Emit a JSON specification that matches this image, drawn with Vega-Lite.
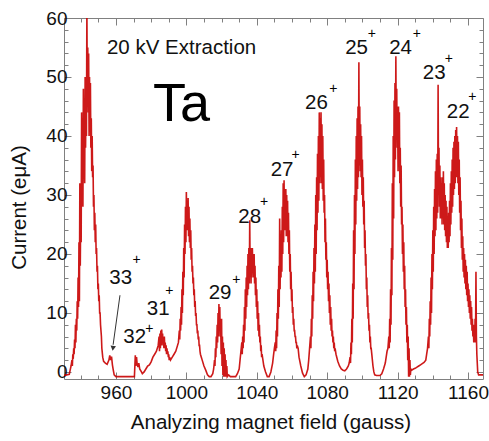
{
"$schema":"https://vega.github.io/schema/vega-lite/v6.json",
"width":419,"height":361,
"autosize":{"type":"none"},
"padding":{"left":64,"top":18,"right":6,"bottom":62},
"config":{"view":{"stroke":"#808080","strokeWidth":1},"font":"Liberation Sans","text":{"font":"Liberation Sans"}},
"datasets":{
"scan":[
{"B":930.5,"I":-0.6},{"B":932,"I":-0.5},{"B":933.5,"I":-0.4},{"B":934,"I":0.3},{"B":934.5,"I":1.0},{"B":935,"I":2},{"B":935.25,"I":1},{"B":935.5,"I":3},{"B":935.75,"I":2.2},{"B":936,"I":4},{"B":936.25,"I":3},{"B":936.5,"I":5.5},{"B":936.75,"I":4},{"B":937,"I":8},{"B":937.25,"I":5},{"B":937.5,"I":9},{"B":937.75,"I":7},{"B":938,"I":12},{"B":938.25,"I":9},{"B":938.5,"I":16},{"B":938.75,"I":11},
{"B":939,"I":22},{"B":939.25,"I":12},{"B":939.5,"I":32},{"B":939.75,"I":18},{"B":940,"I":28},{"B":940.25,"I":22},{"B":940.5,"I":44},{"B":940.75,"I":30},{"B":941,"I":36},{"B":941.25,"I":28},{"B":941.5,"I":48},{"B":941.75,"I":34},{"B":942,"I":40},{"B":942.25,"I":32},{"B":942.5,"I":50},{"B":942.75,"I":38},{"B":943,"I":46},{"B":943.25,"I":40},{"B":943.5,"I":62},{"B":943.75,"I":45},{"B":944,"I":55},{"B":944.25,"I":44},{"B":944.5,"I":54},{"B":944.75,"I":40},{"B":945,"I":50},{"B":945.25,"I":42},{"B":945.5,"I":49},{"B":945.75,"I":38},{"B":946,"I":43},{"B":946.25,"I":34},{"B":946.5,"I":40},{"B":946.75,"I":33},{"B":947,"I":35},{"B":947.25,"I":28},{"B":947.5,"I":30},{"B":947.75,"I":24},{"B":948,"I":27},{"B":948.25,"I":22},{"B":948.5,"I":25},{"B":948.75,"I":20},{"B":949,"I":21},{"B":949.25,"I":17},{"B":949.5,"I":18},{"B":949.75,"I":14},{"B":950,"I":15},{"B":950.25,"I":12},{"B":950.5,"I":13},{"B":950.75,"I":10},{"B":951,"I":10},{"B":951.25,"I":8},{"B":951.5,"I":7},{"B":951.75,"I":6},{"B":952,"I":4},{"B":952.5,"I":2.5},{"B":953,"I":1.8},{"B":954,"I":1.5},{"B":955,"I":1.3},{"B":956,"I":2},{"B":956.5,"I":2.8},{"B":957,"I":2.0},{"B":957.5,"I":2.6},{"B":958,"I":1.2},{"B":958.5,"I":0.3},{"B":959,"I":-0.5},{"B":960,"I":-0.8},{"B":970.5,"I":-0.8},
{"B":971,"I":2.8},{"B":971.3,"I":1.0},{"B":971.7,"I":2.5},{"B":972,"I":1.5},{"B":972.5,"I":0.8},{"B":973,"I":1.5},{"B":973.5,"I":0.5},{"B":974.5,"I":0},{"B":975,"I":-0.3},{"B":976,"I":0},{"B":977,"I":0.5},{"B":978,"I":1.0},{"B":979,"I":1.2},{"B":980,"I":1.7},{"B":981,"I":2.5},{"B":982,"I":3},{"B":983,"I":3.5},{"B":984,"I":4.5},
{"B":984.5,"I":6},{"B":984.75,"I":3.5},{"B":985,"I":6.5},{"B":985.25,"I":4},{"B":985.5,"I":7},{"B":985.75,"I":4.5},{"B":986,"I":7.2},{"B":986.25,"I":5},{"B":986.5,"I":6.5},{"B":986.75,"I":4.5},{"B":987,"I":5.5},{"B":987.25,"I":4},{"B":987.5,"I":6},{"B":987.75,"I":4},{"B":988,"I":5},{"B":988.25,"I":3.5},{"B":988.5,"I":4.5},{"B":988.75,"I":3},{"B":989,"I":4},{"B":989.25,"I":3},{"B":989.5,"I":3.5},{"B":989.75,"I":2.5},{"B":990,"I":3},{"B":990.25,"I":2},{"B":990.5,"I":2.5},{"B":991,"I":2},{"B":992,"I":2.5},{"B":993,"I":3},{"B":994,"I":3.5},{"B":995,"I":4.5},{"B":995.5,"I":5},
{"B":996,"I":7},{"B":996.25,"I":5.5},{"B":996.5,"I":9},{"B":996.75,"I":7},{"B":997,"I":11},{"B":997.25,"I":8},{"B":997.5,"I":14},{"B":997.75,"I":10},{"B":998,"I":17},{"B":998.25,"I":13},{"B":998.5,"I":21},{"B":998.75,"I":16},{"B":999,"I":25},{"B":999.25,"I":20},{"B":999.5,"I":28},{"B":999.75,"I":22},{"B":1000,"I":30.5},{"B":1000.25,"I":24},{"B":1000.5,"I":29},{"B":1000.75,"I":24},{"B":1001,"I":29.5},{"B":1001.25,"I":23},{"B":1001.5,"I":28},{"B":1001.75,"I":22},{"B":1002,"I":26},{"B":1002.25,"I":21},{"B":1002.5,"I":24},{"B":1002.75,"I":19},{"B":1003,"I":21},{"B":1003.25,"I":17},{"B":1003.5,"I":18},{"B":1003.75,"I":15},{"B":1004,"I":16},{"B":1004.25,"I":13},{"B":1004.5,"I":14},{"B":1004.75,"I":11},{"B":1005,"I":12},{"B":1005.25,"I":9.5},{"B":1005.5,"I":10},{"B":1005.75,"I":8},{"B":1006,"I":8},{"B":1006.25,"I":6.5},{"B":1006.5,"I":7},{"B":1006.75,"I":5.5},{"B":1007,"I":6},{"B":1007.25,"I":4.5},{"B":1007.5,"I":4.5},{"B":1007.75,"I":3.5},{"B":1008,"I":3},{"B":1008.5,"I":2.5},{"B":1009,"I":2},{"B":1010,"I":1},{"B":1011,"I":0.3},{"B":1012,"I":-0.5},{"B":1013,"I":-0.8},{"B":1014,"I":-0.8},{"B":1015,"I":-0.3},{"B":1015.5,"I":0.5},
{"B":1016,"I":2},{"B":1016.25,"I":1},{"B":1016.5,"I":4},{"B":1016.75,"I":2.5},{"B":1017,"I":6},{"B":1017.25,"I":4},{"B":1017.5,"I":8},{"B":1017.75,"I":5},{"B":1018,"I":10},{"B":1018.25,"I":6},{"B":1018.5,"I":11.5},{"B":1018.75,"I":7},{"B":1019,"I":11},{"B":1019.25,"I":6},{"B":1019.5,"I":8},{"B":1019.75,"I":3},{"B":1020,"I":9},{"B":1020.25,"I":1},{"B":1020.5,"I":6},{"B":1020.75,"I":-0.5},{"B":1021,"I":5},{"B":1021.25,"I":-0.8},{"B":1021.5,"I":4},{"B":1021.75,"I":-0.8},{"B":1022,"I":3},{"B":1022.25,"I":-0.8},{"B":1022.5,"I":2},{"B":1022.75,"I":-0.8},{"B":1023,"I":1},{"B":1023.25,"I":-0.8},{"B":1024,"I":-0.5},{"B":1025,"I":-0.8},{"B":1028,"I":-0.8},{"B":1029,"I":-0.3},{"B":1030,"I":0.5},{"B":1030.5,"I":2},{"B":1031,"I":3.5},
{"B":1031.5,"I":5},{"B":1031.75,"I":3},{"B":1032,"I":6},{"B":1032.25,"I":4},{"B":1032.5,"I":8},{"B":1032.75,"I":5},{"B":1033,"I":11},{"B":1033.25,"I":7},{"B":1033.5,"I":14},{"B":1033.75,"I":9},{"B":1034,"I":16},{"B":1034.25,"I":11},{"B":1034.5,"I":18},{"B":1034.75,"I":13},{"B":1035,"I":20},{"B":1035.25,"I":14},{"B":1035.5,"I":21},{"B":1035.75,"I":15},{"B":1036,"I":25.7},{"B":1036.25,"I":17},{"B":1036.5,"I":20},{"B":1036.75,"I":15},{"B":1037,"I":21},{"B":1037.25,"I":16},{"B":1037.5,"I":21},{"B":1037.75,"I":17},{"B":1038,"I":20},{"B":1038.25,"I":16},{"B":1038.5,"I":20},{"B":1038.75,"I":15},{"B":1039,"I":18},{"B":1039.25,"I":13},{"B":1039.5,"I":16},{"B":1039.75,"I":11},{"B":1040,"I":14},{"B":1040.25,"I":9},{"B":1040.5,"I":12},{"B":1040.75,"I":7},{"B":1041,"I":10},{"B":1041.25,"I":6},{"B":1041.5,"I":8},{"B":1041.75,"I":5},{"B":1042,"I":6},{"B":1042.25,"I":3.5},{"B":1042.5,"I":4.5},{"B":1042.75,"I":2.5},{"B":1043,"I":3},{"B":1043.5,"I":2},{"B":1044,"I":1},{"B":1045,"I":0},{"B":1046,"I":-0.8},{"B":1047,"I":-0.8},{"B":1048,"I":0},{"B":1049,"I":1.5},{"B":1049.5,"I":2.8},{"B":1050,"I":4},
{"B":1050.5,"I":5},{"B":1050.75,"I":3.5},{"B":1051,"I":7},{"B":1051.25,"I":4},{"B":1051.5,"I":10},{"B":1051.75,"I":6},{"B":1052,"I":14},{"B":1052.25,"I":9},{"B":1052.5,"I":18},{"B":1052.75,"I":11},{"B":1053,"I":26},{"B":1053.25,"I":14},{"B":1053.5,"I":22},{"B":1053.75,"I":16},{"B":1054,"I":24},{"B":1054.25,"I":17},{"B":1054.5,"I":28},{"B":1054.75,"I":20},{"B":1055,"I":32},{"B":1055.25,"I":22},{"B":1055.5,"I":32.5},{"B":1055.75,"I":24},{"B":1056,"I":31},{"B":1056.25,"I":24},{"B":1056.5,"I":31},{"B":1056.75,"I":23},{"B":1057,"I":30},{"B":1057.25,"I":23},{"B":1057.5,"I":29},{"B":1057.75,"I":22},{"B":1058,"I":27},{"B":1058.25,"I":20},{"B":1058.5,"I":24},{"B":1058.75,"I":17},{"B":1059,"I":20},{"B":1059.25,"I":14},{"B":1059.5,"I":17},{"B":1059.75,"I":12},{"B":1060,"I":14},{"B":1060.25,"I":10},{"B":1060.5,"I":11},{"B":1060.75,"I":8},{"B":1061,"I":9},{"B":1061.25,"I":7},{"B":1061.5,"I":7},{"B":1061.75,"I":6},{"B":1062,"I":6},{"B":1062.25,"I":5},{"B":1062.5,"I":5},{"B":1062.75,"I":4},{"B":1063,"I":4.5},{"B":1063.5,"I":4},{"B":1064,"I":2.5},{"B":1065,"I":1},{"B":1066,"I":-0.2},{"B":1067,"I":-0.8},{"B":1068,"I":-0.5},{"B":1069,"I":0.5},{"B":1069.5,"I":2},{"B":1070,"I":4},
{"B":1070.5,"I":6},{"B":1070.75,"I":4},{"B":1071,"I":9},{"B":1071.25,"I":6},{"B":1071.5,"I":13},{"B":1071.75,"I":9},{"B":1072,"I":17},{"B":1072.25,"I":12},{"B":1072.5,"I":21},{"B":1072.75,"I":15},{"B":1073,"I":25},{"B":1073.25,"I":17},{"B":1073.5,"I":30},{"B":1073.75,"I":20},{"B":1074,"I":33},{"B":1074.25,"I":24},{"B":1074.5,"I":37},{"B":1074.75,"I":27},{"B":1075,"I":40},{"B":1075.25,"I":29},{"B":1075.5,"I":44},{"B":1075.75,"I":32},{"B":1076,"I":43},{"B":1076.25,"I":33},{"B":1076.5,"I":44},{"B":1076.75,"I":32},{"B":1077,"I":42},{"B":1077.25,"I":31},{"B":1077.5,"I":40},{"B":1077.75,"I":29},{"B":1078,"I":36},{"B":1078.25,"I":27},{"B":1078.5,"I":30},{"B":1078.75,"I":22},{"B":1079,"I":26},{"B":1079.25,"I":19},{"B":1079.5,"I":22},{"B":1079.75,"I":16},{"B":1080,"I":19},{"B":1080.25,"I":14},{"B":1080.5,"I":17},{"B":1080.75,"I":12},{"B":1081,"I":15},{"B":1081.25,"I":10},{"B":1081.5,"I":13},{"B":1081.75,"I":8},{"B":1082,"I":11},{"B":1082.25,"I":7},{"B":1082.5,"I":9},{"B":1082.75,"I":6},{"B":1083,"I":7},{"B":1083.25,"I":5},{"B":1083.5,"I":6},{"B":1083.75,"I":4},{"B":1084,"I":5},{"B":1084.25,"I":3.5},{"B":1084.5,"I":4},{"B":1085,"I":3},{"B":1086,"I":1.8},{"B":1087,"I":1},{"B":1088,"I":0.5},{"B":1089,"I":0.3},{"B":1090,"I":0.2},{"B":1091,"I":0.5},{"B":1092,"I":1},{"B":1092.5,"I":1.5},
{"B":1093,"I":2.5},{"B":1093.25,"I":1.5},{"B":1093.5,"I":5},{"B":1093.75,"I":3},{"B":1094,"I":9},{"B":1094.25,"I":5},{"B":1094.5,"I":15},{"B":1094.75,"I":9},{"B":1095,"I":24},{"B":1095.25,"I":14},{"B":1095.5,"I":30},{"B":1095.75,"I":20},{"B":1096,"I":36},{"B":1096.25,"I":25},{"B":1096.5,"I":40},{"B":1096.75,"I":29},{"B":1097,"I":43},{"B":1097.25,"I":31},{"B":1097.5,"I":45},{"B":1097.75,"I":33},{"B":1098,"I":52.5},{"B":1098.25,"I":35},{"B":1098.5,"I":45},{"B":1098.75,"I":34},{"B":1099,"I":42},{"B":1099.25,"I":33},{"B":1099.5,"I":40},{"B":1099.75,"I":30},{"B":1100,"I":36},{"B":1100.25,"I":28},{"B":1100.5,"I":33},{"B":1100.75,"I":25},{"B":1101,"I":29},{"B":1101.25,"I":21},{"B":1101.5,"I":24},{"B":1101.75,"I":18},{"B":1102,"I":20},{"B":1102.25,"I":14},{"B":1102.5,"I":16},{"B":1102.75,"I":11},{"B":1103,"I":13},{"B":1103.25,"I":9},{"B":1103.5,"I":10},{"B":1103.75,"I":7},{"B":1104,"I":8},{"B":1104.25,"I":5},{"B":1104.5,"I":6},{"B":1104.75,"I":4},{"B":1105,"I":4},{"B":1105.5,"I":2.5},{"B":1106,"I":1},{"B":1106.5,"I":0},{"B":1107,"I":-0.5},{"B":1108,"I":-0.6},{"B":1110,"I":-0.6},{"B":1111,"I":-0.3},{"B":1112,"I":0.5},{"B":1113,"I":1.5},{"B":1113.5,"I":2.5},{"B":1114,"I":3.5},{"B":1114.5,"I":4},
{"B":1115,"I":6},{"B":1115.25,"I":4},{"B":1115.5,"I":9},{"B":1115.75,"I":5},{"B":1116,"I":14},{"B":1116.25,"I":8},{"B":1116.5,"I":21},{"B":1116.75,"I":13},{"B":1117,"I":32},{"B":1117.25,"I":19},{"B":1117.5,"I":40},{"B":1117.75,"I":26},{"B":1118,"I":46},{"B":1118.25,"I":33},{"B":1118.5,"I":49},{"B":1118.75,"I":36},{"B":1119,"I":53.5},{"B":1119.25,"I":40},{"B":1119.5,"I":48},{"B":1119.75,"I":38},{"B":1120,"I":43},{"B":1120.25,"I":34},{"B":1120.5,"I":45},{"B":1120.75,"I":35},{"B":1121,"I":44},{"B":1121.25,"I":32},{"B":1121.5,"I":38},{"B":1121.75,"I":28},{"B":1122,"I":35},{"B":1122.25,"I":25},{"B":1122.5,"I":28},{"B":1122.75,"I":20},{"B":1123,"I":25},{"B":1123.25,"I":17},{"B":1123.5,"I":22},{"B":1123.75,"I":14},{"B":1124,"I":18},{"B":1124.25,"I":11},{"B":1124.5,"I":14},{"B":1124.75,"I":8},{"B":1125,"I":11},{"B":1125.25,"I":5},{"B":1125.5,"I":8},{"B":1125.75,"I":2},{"B":1126,"I":6},{"B":1126.25,"I":-0.8},{"B":1126.5,"I":4},{"B":1126.75,"I":-0.8},{"B":1127,"I":2},{"B":1127.25,"I":-0.5},{"B":1127.5,"I":0.5},{"B":1128,"I":0.3},{"B":1129,"I":0.5},{"B":1130,"I":0.6},{"B":1131,"I":0.8},{"B":1132,"I":1.0},{"B":1133,"I":1.2},{"B":1134,"I":1.4},{"B":1135,"I":1.6},{"B":1136,"I":2.0},{"B":1136.5,"I":3},{"B":1137,"I":4},
{"B":1137.5,"I":6},{"B":1137.75,"I":4},{"B":1138,"I":9},{"B":1138.25,"I":6},{"B":1138.5,"I":12},{"B":1138.75,"I":8},{"B":1139,"I":16},{"B":1139.25,"I":10},{"B":1139.5,"I":20},{"B":1139.75,"I":14},{"B":1140,"I":24},{"B":1140.25,"I":17},{"B":1140.5,"I":28},{"B":1140.75,"I":20},{"B":1141,"I":31},{"B":1141.25,"I":23},{"B":1141.5,"I":34},{"B":1141.75,"I":24},{"B":1142,"I":36},{"B":1142.25,"I":26},{"B":1142.5,"I":37},{"B":1142.75,"I":27},{"B":1143,"I":48.7},{"B":1143.25,"I":30},{"B":1143.5,"I":38},{"B":1143.75,"I":28},{"B":1144,"I":35},{"B":1144.25,"I":26},{"B":1144.5,"I":33},{"B":1144.75,"I":26},{"B":1145,"I":32},{"B":1145.25,"I":25},{"B":1145.5,"I":33},{"B":1145.75,"I":26},{"B":1146,"I":34},{"B":1146.25,"I":25},{"B":1146.5,"I":32},{"B":1146.75,"I":24},{"B":1147,"I":30},{"B":1147.25,"I":23},{"B":1147.5,"I":29},{"B":1147.75,"I":22},{"B":1148,"I":28},{"B":1148.25,"I":21},{"B":1148.5,"I":26},{"B":1148.75,"I":21},{"B":1149,"I":27},{"B":1149.25,"I":22},{"B":1149.5,"I":29},{"B":1149.75,"I":23},{"B":1150,"I":32},{"B":1150.25,"I":25},{"B":1150.5,"I":34},{"B":1150.75,"I":27},{"B":1151,"I":36},{"B":1151.25,"I":28},{"B":1151.5,"I":38},{"B":1151.75,"I":30},{"B":1152,"I":39},{"B":1152.25,"I":31},{"B":1152.5,"I":40},{"B":1152.75,"I":32},{"B":1153,"I":41},{"B":1153.25,"I":33},{"B":1153.5,"I":41.5},{"B":1153.75,"I":33},{"B":1154,"I":40},{"B":1154.25,"I":32},{"B":1154.5,"I":39},{"B":1154.75,"I":30},{"B":1155,"I":36},{"B":1155.25,"I":27},{"B":1155.5,"I":33},{"B":1155.75,"I":24},{"B":1156,"I":29},{"B":1156.25,"I":21},{"B":1156.5,"I":26},{"B":1156.75,"I":19},{"B":1157,"I":23},{"B":1157.25,"I":17},{"B":1157.5,"I":21},{"B":1157.75,"I":16},{"B":1158,"I":20},{"B":1158.25,"I":15},{"B":1158.5,"I":19},{"B":1158.75,"I":14},{"B":1159,"I":18},{"B":1159.25,"I":13},{"B":1159.5,"I":17},{"B":1159.75,"I":12},{"B":1160,"I":15},{"B":1160.25,"I":11},{"B":1160.5,"I":14},{"B":1160.75,"I":10},{"B":1161,"I":13},{"B":1161.25,"I":9},{"B":1161.5,"I":12},{"B":1161.75,"I":8},{"B":1162,"I":11},{"B":1162.25,"I":7},{"B":1162.5,"I":9},{"B":1162.75,"I":6},{"B":1163,"I":8},{"B":1163.25,"I":5},{"B":1163.5,"I":7},{"B":1163.75,"I":5},{"B":1164,"I":9},{"B":1164.25,"I":5},{"B":1164.5,"I":17},{"B":1164.75,"I":6},{"B":1165,"I":3},{"B":1165.5,"I":0},{"B":1166,"I":-0.5},{"B":1168.5,"I":-0.5}
],
"labels":[
{"t":"25","B":1090.2,"I":53.87},{"t":"24","B":1115.2,"I":53.87},{"t":"23","B":1134.3,"I":49.6},{"t":"22","B":1147.9,"I":43.0},{"t":"26","B":1067.4,"I":44.5},{"t":"27","B":1047.9,"I":33.26},{"t":"28","B":1029.5,"I":25.27},{"t":"29","B":1012.7,"I":12.31},{"t":"31","B":977.5,"I":9.61},{"t":"32","B":964.2,"I":4.83},{"t":"33","B":956.2,"I":14.97}
],
"plus":[
{"t":"+","B":1105.3,"I":57.25},{"t":"+","B":1130.9,"I":57.25},{"t":"+","B":1149.1,"I":53.1},{"t":"+","B":1162.5,"I":46.6},{"t":"+","B":1083.5,"I":47.9},{"t":"+","B":1062.1,"I":36.8},{"t":"+","B":1044.1,"I":28.75},{"t":"+","B":1028.4,"I":15.5},{"t":"+","B":990.3,"I":13.7},{"t":"+","B":979.0,"I":7.2},{"t":"+","B":971.8,"I":18.9}
]
},
"layer":[
{"data":{"name":"scan"},
 "mark":{"type":"line","color":"#c80000","strokeWidth":1.6,"opacity":0.9,"clip":true},
 "encoding":{
  "x":{"field":"B","type":"quantitative","scale":{"domain":[930.5,1168.5],"nice":false,"zero":false},
   "axis":{"orient":"bottom","values":[940,950,960,970,980,990,1000,1010,1020,1030,1040,1050,1060,1070,1080,1090,1100,1110,1120,1130,1140,1150,1160],
    "format":"d","labelExpr":"datum.value % 40 === 0 ? datum.label : ''",
    "tickSize":{"condition":{"test":"datum.value % 40 === 0","value":-7},"value":-4},
    "tickColor":"#808080","domain":false,"grid":false,"labelFontSize":19,"labelColor":"#111","labelPadding":11,"labelFlush":false,"labelOverlap":false,
    "title":"Analyzing magnet field (gauss)","titleFontSize":20.5,"titleFontWeight":"normal","titleColor":"#111","titleX":206.5,"titleY":49,"titleBaseline":"alphabetic","titleAlign":"center","titleAnchor":"start"}},
  "y":{"field":"I","type":"quantitative","scale":{"domain":[-1.2,60],"nice":false,"zero":false},
   "axis":{"orient":"left","values":[0,2,4,6,8,10,12,14,16,18,20,22,24,26,28,30,32,34,36,38,40,42,44,46,48,50,52,54,56,58,60],
    "format":"d","labelExpr":"datum.value % 10 === 0 ? datum.label : ''",
    "tickSize":{"condition":{"test":"datum.value % 10 === 0","value":-7},"value":-4},
    "tickColor":"#808080","domain":false,"grid":false,"labelFontSize":19,"labelColor":"#111","labelPadding":4,"labelFlush":false,"labelOverlap":false,
    "title":"Current (eμA)","titleFontSize":20.5,"titleFontWeight":"normal","titleColor":"#111","titleX":-45,"titleY":189,"titleAngle":-90,"titleBaseline":"middle","titleAlign":"center","titleAnchor":"start"}}
 }},
{"data":{"name":"labels"},
 "mark":{"type":"text","align":"left","baseline":"alphabetic","fontSize":20.5,"fill":"#111","color":"#111"},
 "encoding":{
  "x":{"field":"B","type":"quantitative",
   "axis":{"orient":"top","values":[940,950,960,970,980,990,1000,1010,1020,1030,1040,1050,1060,1070,1080,1090,1100,1110,1120,1130,1140,1150,1160],
    "labels":false,"title":null,"domain":false,"grid":false,"tickColor":"#808080",
    "tickSize":{"condition":{"test":"datum.value % 40 === 0","value":-7},"value":-4}}},
  "y":{"field":"I","type":"quantitative",
   "axis":{"orient":"right","values":[0,2,4,6,8,10,12,14,16,18,20,22,24,26,28,30,32,34,36,38,40,42,44,46,48,50,52,54,56,58,60],
    "labels":false,"title":null,"domain":false,"grid":false,"tickColor":"#808080",
    "tickSize":{"condition":{"test":"datum.value % 10 === 0","value":-7},"value":-4}}},
  "text":{"field":"t"}
 }},
{"data":{"name":"plus"},
 "mark":{"type":"text","align":"center","baseline":"middle","fontSize":14,"fill":"#000","color":"#000"},
 "encoding":{
  "x":{"field":"B","type":"quantitative","axis":null},
  "y":{"field":"I","type":"quantitative","axis":null},
  "text":{"field":"t"}
 }},
{"data":{"values":[{"t":"20 kV Extraction","B":954.9,"I":53.9}]},
 "mark":{"type":"text","align":"left","baseline":"alphabetic","fontSize":20.5,"fill":"#111","color":"#111"},
 "encoding":{"x":{"field":"B","type":"quantitative","axis":null},"y":{"field":"I","type":"quantitative","axis":null},"text":{"field":"t"}}},
{"data":{"values":[{"t":"Ta","B":981.1,"I":42.55}]},
 "mark":{"type":"text","align":"left","baseline":"alphabetic","fontSize":54,"fill":"#000","color":"#000"},
 "encoding":{"x":{"field":"B","type":"quantitative","axis":null},"y":{"field":"I","type":"quantitative","axis":null},"text":{"field":"t"}}},
{"data":{"values":[{"B":962.3,"I":13.0,"B2":958.4,"I2":4.6}]},
 "mark":{"type":"rule","color":"#333","strokeWidth":1},
 "encoding":{"x":{"field":"B","type":"quantitative","axis":null},"y":{"field":"I","type":"quantitative","axis":null},"x2":{"field":"B2"},"y2":{"field":"I2"}}},
{"data":{"values":[{"B":958.3,"I":4.0}]},
 "mark":{"type":"point","shape":"triangle-down","filled":true,"color":"#333","size":30,"angle":8,"opacity":1},
 "encoding":{"x":{"field":"B","type":"quantitative","axis":null},"y":{"field":"I","type":"quantitative","axis":null}}}
],
"resolve":{"axis":{"x":"independent","y":"independent"}}
}
